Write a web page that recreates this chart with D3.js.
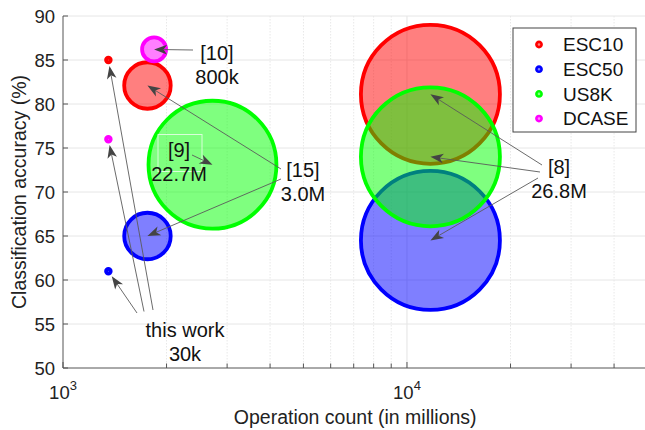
<!DOCTYPE html>
<html>
<head>
<meta charset="utf-8">
<script src="https://cdn.jsdelivr.net/npm/d3@7"></script>
<style>
  html, body { margin: 0; padding: 0; background: #fff; }
  svg { display: block; font-family: "Liberation Sans", Arial, Helvetica, sans-serif; }
</style>
</head>
<body>
<svg id="chart" width="645" height="430"></svg>
<script>
// Datasets and their colours
const datasets = ["ESC10", "ESC50", "US8K", "DCASE"];
const datasetColors = ["#ff0000", "#0000ff", "#00ff00", "#ff00ff"];

// One entry per network/dataset result
const modelRef    = ["[15]", "[15]", "[9]", "[10]", "[8]", "[8]", "[8]", "this work", "this work", "this work"];
const modelSet    = ["ESC10", "ESC50", "US8K", "DCASE", "ESC10", "ESC50", "US8K", "ESC10", "DCASE", "ESC50"];
const opsMillions = [1760, 1760, 2720, 1840, 11700, 11700, 11700, 1355, 1355, 1355];
const accuracy    = [82.1, 65.0, 73.1, 86.2, 81.1, 64.5, 74.0, 85.0, 76.0, 61.0];
const paramsM     = [3.0, 3.0, 22.7, 0.8, 26.8, 26.8, 26.8, 0.03, 0.03, 0.03];

// Annotation labels: reference and parameter count
const noteRef    = ["[10]", "[9]", "[15]", "[8]", "this work"];
const noteParams = ["800k", "22.7M", "3.0M", "26.8M", "30k"];

// Axis ticks
const yTicks = [50, 55, 60, 65, 70, 75, 80, 85, 90];
const xDomain = [1e3, 5e4];
const yDomain = [50, 90];

(function draw() {
const svg = d3.select("#chart");
const pl = 63, pr = 647.4, pt = 16, pb = 368;

const x = d3.scaleLog().domain(xDomain).range([pl, pr]);
const y = d3.scaleLinear().domain(yDomain).range([pb, pt]);
const r = d3.scaleSqrt().domain([0, 26.8]).range([0, 69.5]);
const color = d3.scaleOrdinal().domain(datasets).range(datasetColors);
const isDecade = v => Math.abs(Math.log10(v) - Math.round(Math.log10(v))) < 1e-9;

// Grid
const grid = svg.append("g");
const xt = x.ticks();
grid.selectAll("line.vx").data(xt.filter(v => v > xDomain[0])).join("line")
  .attr("x1", d => x(d)).attr("x2", d => x(d))
  .attr("y1", pt).attr("y2", pb)
  .attr("stroke", d => isDecade(d) ? "#e3e3e3" : "#e8e8e8")
  .attr("stroke-width", 1)
  .attr("stroke-dasharray", d => isDecade(d) ? null : "1.5,1.5");
grid.selectAll("line.hy").data(yTicks.filter(v => v > yDomain[0])).join("line")
  .attr("x1", pl).attr("x2", 645)
  .attr("y1", d => y(d)).attr("y2", d => y(d))
  .attr("stroke", "#e6e6e6").attr("stroke-width", 1);

// Bubbles
const rows = modelRef.map((ref, i) => ({
  ref, set: modelSet[i], ops: opsMillions[i], acc: accuracy[i], params: paramsM[i], i
}));
const drawOrder = rows.slice().sort((a, b) =>
  datasets.indexOf(a.set) - datasets.indexOf(b.set) || b.params - a.params);

svg.append("g").selectAll("circle").data(drawOrder).join("circle")
  .attr("cx", d => x(d.ops)).attr("cy", d => y(d.acc))
  .attr("r", d => r(d.params))
  .attr("fill", d => color(d.set)).attr("fill-opacity", 0.5)
  .attr("stroke", d => color(d.set)).attr("stroke-width", 3.8);

// Axes
const axes = svg.append("g").attr("stroke", "#555").attr("fill", "none");
axes.append("line").attr("x1", pl).attr("x2", 645).attr("y1", pb).attr("y2", pb);
axes.append("line").attr("x1", pl).attr("x2", pl).attr("y1", pt).attr("y2", pb);
axes.selectAll("line.yt").data(yTicks).join("line")
  .attr("x1", pl).attr("x2", pl + 5)
  .attr("y1", d => y(d)).attr("y2", d => y(d));
axes.selectAll("line.xt").data(xt).join("line")
  .attr("x1", d => x(d)).attr("x2", d => x(d))
  .attr("y1", pb).attr("y2", d => isDecade(d) ? pb - 6 : pb - 4.5);

const textColor = "#222";
svg.append("g").selectAll("text").data(yTicks).join("text")
  .attr("x", 55).attr("y", d => y(d)).attr("dy", "0.36em")
  .attr("text-anchor", "end").attr("font-size", 18.5).attr("fill", textColor)
  .text(d => d);

const xLabels = svg.append("g").selectAll("text")
  .data(xt.filter(isDecade)).join("text")
  .attr("x", d => x(d)).attr("y", 399)
  .attr("text-anchor", "middle").attr("font-size", 18.5).attr("fill", textColor);
xLabels.append("tspan").text("10");
xLabels.append("tspan").attr("font-size", 13).attr("dy", -9)
  .text(d => Math.round(Math.log10(d)));

svg.append("text").attr("x", (pl + pr) / 2).attr("y", 424)
  .attr("text-anchor", "middle").attr("font-size", 19.5).attr("fill", textColor)
  .text("Operation count (in millions)");
svg.append("text").attr("transform", `translate(26,${(pt + pb) / 2}) rotate(-90)`)
  .attr("text-anchor", "middle").attr("font-size", 19.5).attr("fill", textColor)
  .text("Classification accuracy (%)");

// Annotations: label anchor, arrow tails relative to the anchor, target rows
const noteLayout = {
  "[10]":      { x: 217, y: 60,  tails: [[-24, -10]], gap: 0 },
  "[9]":       { x: 179, y: 157, tails: [[13, -2]], gap: 0, box: [-21, -22.5, 44, 37] },
  "[15]":      { x: 303, y: 177, tails: [[-22, -8], [-22, 2]], gap: 0 },
  "[8]":       { x: 559, y: 174, tails: [[-17, -9], [-19, -2], [-21, 4]], gap: 0 },
  "this work": { x: 185, y: 337, tails: [[-32, -27], [-41, -25.5], [-48, -24]], gap: 6 }
};

const notes = svg.append("g");
noteRef.forEach((ref, k) => {
  const L = noteLayout[ref];
  const targets = rows.filter(d => d.ref === ref)
    .sort((a, b) => b.acc - a.acc);
  const g = notes.append("g");
  if (L.box) {
    g.append("rect").attr("x", L.x + L.box[0]).attr("y", L.y + L.box[1])
      .attr("width", L.box[2]).attr("height", L.box[3])
      .attr("fill", "none").attr("stroke", "#fff").attr("stroke-opacity", 0.7).attr("stroke-width", 1);
  }
  targets.forEach((d, j) => {
    const t = L.tails[Math.min(j, L.tails.length - 1)];
    const x0 = L.x + t[0], y0 = L.y + t[1];
    let x1 = x(d.ops), y1 = y(d.acc);
    const dx = x1 - x0, dy = y1 - y0, len = Math.hypot(dx, dy);
    const ux = dx / len, uy = dy / len;
    x1 -= ux * L.gap; y1 -= uy * L.gap;
    const hl = 13, hw = 4.8, notch = 3.5;
    g.append("line").attr("x1", x0).attr("y1", y0)
      .attr("x2", x1 - ux * (hl - notch)).attr("y2", y1 - uy * (hl - notch))
      .attr("stroke", "#5a5a5a").attr("stroke-width", 0.9);
    const bx = x1 - ux * hl, by = y1 - uy * hl;
    const nx = -uy, ny = ux;
    const head = d3.path();
    head.moveTo(x1, y1);
    head.lineTo(bx + nx * hw, by + ny * hw);
    head.lineTo(x1 - ux * (hl - notch), y1 - uy * (hl - notch));
    head.lineTo(bx - nx * hw, by - ny * hw);
    head.closePath();
    g.append("path").attr("d", head.toString()).attr("fill", "#444");
  });
  const txt = g.append("text").attr("text-anchor", "middle")
    .attr("font-size", 20).attr("fill", "#111");
  txt.append("tspan").attr("x", L.x).attr("y", L.y).text(ref);
  txt.append("tspan").attr("x", L.x).attr("y", L.y + 24).text(noteParams[k]);
});

// Legend
const lg = svg.append("g");
lg.append("rect").attr("x", 513).attr("y", 28).attr("width", 123).attr("height", 104)
  .attr("fill", "#fff").attr("stroke", "#444").attr("stroke-width", 1);
const items = lg.selectAll("g.item").data(datasets).join("g")
  .attr("transform", (d, i) => `translate(539,${44.5 + i * 24.7})`);
items.append("circle").attr("r", 2.6)
  .attr("fill", d => color(d)).attr("fill-opacity", 0.5)
  .attr("stroke", d => color(d)).attr("stroke-width", 2.6);
items.append("text").attr("x", 24).attr("dy", "0.36em")
  .attr("font-size", 19).attr("fill", "#111").text(d => d);
})();
</script>
</body>
</html>
